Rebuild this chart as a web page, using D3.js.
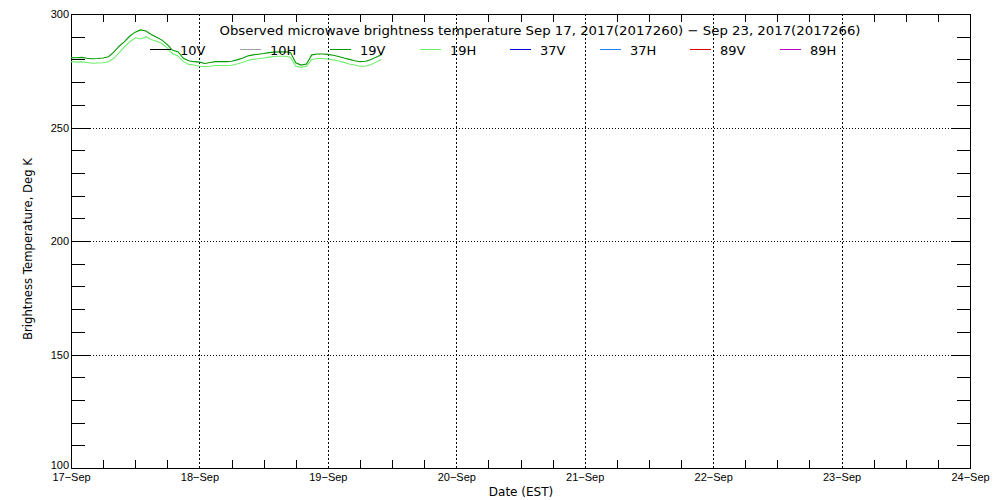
<!DOCTYPE html>
<html>
<head>
<meta charset="utf-8">
<script src="https://cdn.jsdelivr.net/npm/d3@7"></script>
<style>
  body { margin: 0; background: #fff; }
  svg { display: block; font-family: "DejaVu Sans", sans-serif; }
  .tick text { fill: #000; }
</style>
</head>
<body>
<svg id="chart" width="1000" height="500"></svg>
<script>
var WIDTH = 1000;
var HEIGHT = 500;
var margin = {left: 71, right: 30, top: 14, bottom: 32};

var startDay = Date.UTC(2017, 8, 17);
var endDay = Date.UTC(2017, 8, 24);
var HOUR = 3600 * 1000;

// channels in legend order
var channels = ['10V', '10H', '19V', '19H', '37V', '37H', '89V', '89H'];
var colors = ['#000000', '#a0a0a0', '#009a00', '#6cf06c', '#0000e0', '#1e80ff', '#e00000', '#c000c0'];

// hourly brightness temperatures (K), from Sep 17 00:00
var tb19V = [280.8, 280.7, 280.9, 280.5, 280.3, 280.4, 280.6, 281.2, 283.2, 285.8,
             287.8, 290.3, 292.0, 293.0, 292.5, 291.0, 289.8, 288.5, 286.5, 284.0,
             283.4, 280.5, 279.4, 279.0, 278.8, 278.2, 278.6, 279.0, 279.0, 279.0,
             279.2, 279.8, 280.5, 281.5, 282.0, 282.3, 282.6, 283.0, 283.2, 283.3,
             283.4, 283.0, 278.5, 277.5, 278.0, 282.0, 282.4, 282.4, 282.2, 281.8,
             281.3, 280.6, 280.0, 279.4, 279.0, 279.2, 279.8, 281.0, 282.0];
var tb19H = [279.0, 278.8, 278.9, 278.6, 278.3, 278.4, 278.5, 279.0, 280.5, 283.0,
             285.5, 287.8, 289.5, 289.0, 290.0, 288.8, 288.0, 287.0, 285.0, 282.5,
             281.5, 279.0, 277.8, 277.5, 277.0, 276.8, 277.0, 277.3, 277.3, 277.2,
             277.4, 278.0, 278.6, 279.5, 280.0, 280.3, 280.6, 281.0, 281.3, 281.4,
             281.4, 281.0, 277.0, 276.5, 277.0, 280.0, 280.4, 280.4, 280.2, 279.8,
             279.3, 278.7, 278.0, 277.5, 277.0, 277.0, 277.6, 278.8, 280.0];

var yMajor = [100, 150, 200, 250, 300];
var yMinor = d3.range(110, 300, 10).filter(function(v){ return v % 50 != 0; });
var yGrid = [150, 200, 250];

var title = 'Observed microwave brightness temperature Sep 17, 2017(2017260) \u2212 Sep 23, 2017(2017266)';

var svg = d3.select('#chart');
var x0 = margin.left, x1 = WIDTH - margin.right;
var y0 = margin.top, y1 = HEIGHT - margin.bottom;

var xScale = d3.scaleUtc().domain([startDay, endDay]).range([x0, x1]);
var yScale = d3.scaleLinear().domain([100, 300]).range([y1, y0]);

var days = d3.utcDay.range(startDay, endDay + 1);
var sixHours = d3.utcHour.every(6).range(startDay, endDay).filter(function(d){ return d.getUTCHours() != 0; });

// gridlines
var grid = svg.append('g').attr('stroke', '#000').attr('shape-rendering', 'crispEdges');
grid.selectAll('.vg').data(days.slice(1, -1)).enter().append('line')
    .attr('x1', function(d){ return Math.round(xScale(d)) + 0.5; })
    .attr('x2', function(d){ return Math.round(xScale(d)) + 0.5; })
    .attr('y1', y0).attr('y2', y1)
    .attr('stroke-dasharray', '2,2');
grid.selectAll('.hg').data(yGrid).enter().append('line')
    .attr('x1', x0 + 19).attr('x2', x1 - 18)
    .attr('y1', function(d){ return Math.round(yScale(d)) + 0.5; })
    .attr('y2', function(d){ return Math.round(yScale(d)) + 0.5; })
    .attr('stroke-dasharray', '1,2');

// axes (ticks inward)
function styleAxis(g){
    g.select('.domain').remove();
    g.selectAll('line').attr('stroke', '#000').attr('shape-rendering', 'crispEdges');
}
svg.append('g').attr('transform', 'translate(' + x0 + ',0)')
    .call(d3.axisLeft(yScale).tickValues(yMinor).tickSize(-14).tickFormat(''))
    .call(styleAxis);
svg.append('g').attr('transform', 'translate(' + x0 + ',0)')
    .call(d3.axisLeft(yScale).tickValues(yMajor).tickSize(-19).tickFormat(d3.format('d')))
    .call(styleAxis)
    .call(function(g){
        g.selectAll('text').attr('font-size', 11).attr('x', -2)
            .attr('dy', function(d){ return d == 100 ? '0' : '0.35em'; });
    });
svg.append('g').attr('transform', 'translate(' + x1 + ',0)')
    .call(d3.axisRight(yScale).tickValues(yMinor).tickSize(-13).tickFormat(''))
    .call(styleAxis);
svg.append('g').attr('transform', 'translate(' + x1 + ',0)')
    .call(d3.axisRight(yScale).tickValues(yGrid).tickSize(-18).tickFormat(''))
    .call(styleAxis);
svg.append('g').attr('transform', 'translate(0,' + y1 + ')')
    .call(d3.axisBottom(xScale).tickValues(sixHours).tickSize(-8).tickFormat(''))
    .call(styleAxis);
svg.append('g').attr('transform', 'translate(0,' + y1 + ')')
    .call(d3.axisBottom(xScale).tickValues(days).tickSize(0).tickPadding(3).tickFormat(d3.utcFormat('%d-%b')))
    .call(styleAxis)
    .call(function(g){ g.selectAll('text').attr('font-size', 11).attr('dy', '0.9em').text(function(d){ return d3.utcFormat('%d-%b')(d).replace('-', '\u2212'); }); });
svg.append('g').attr('transform', 'translate(0,' + y0 + ')')
    .call(d3.axisTop(xScale).tickValues(sixHours).tickSize(-8).tickFormat(''))
    .call(styleAxis);

// frame
svg.append('rect')
    .attr('x', x0 + 0.5).attr('y', y0 + 0.5)
    .attr('width', x1 - x0).attr('height', y1 - y0)
    .attr('fill', 'none').attr('stroke', '#000').attr('shape-rendering', 'crispEdges');

// data lines
var line = d3.line()
    .x(function(d, i){ return xScale(startDay + i * HOUR); })
    .y(function(d){ return yScale(d); });
var series = [{ch: '19H', values: tb19H}, {ch: '19V', values: tb19V}];
svg.append('g').selectAll('path').data(series).enter().append('path')
    .attr('d', function(s){ return line(s.values); })
    .attr('fill', 'none')
    .attr('stroke', function(s){ return colors[channels.indexOf(s.ch)]; })
    .attr('stroke-width', 1.1);

// title
svg.append('text')
    .attr('x', 540).attr('y', 35)
    .attr('text-anchor', 'middle')
    .attr('font-size', 13)
    .attr('textLength', 641).attr('lengthAdjust', 'spacingAndGlyphs')
    .text(title);

// legend
var legend = svg.append('g').selectAll('g').data(channels).enter().append('g')
    .attr('transform', function(d, i){ return 'translate(' + (150 + 90 * i) + ',0)'; });
legend.append('line')
    .attr('x1', 0).attr('x2', 21).attr('y1', 49.5).attr('y2', 49.5)
    .attr('stroke', function(d, i){ return colors[i]; });
legend.append('text')
    .attr('x', 30).attr('y', 55)
    .attr('font-size', 13)
    .text(function(d){ return d; });

// axis titles
svg.append('text')
    .attr('transform', 'translate(32,249) rotate(-90)')
    .attr('text-anchor', 'middle')
    .attr('font-size', 12)
    .attr('textLength', 182).attr('lengthAdjust', 'spacingAndGlyphs')
    .text('Brightness Temperature, Deg K');
svg.append('text')
    .attr('x', 521).attr('y', 496)
    .attr('text-anchor', 'middle')
    .attr('font-size', 12)
    .text('Date (EST)');
</script>
</body>
</html>
